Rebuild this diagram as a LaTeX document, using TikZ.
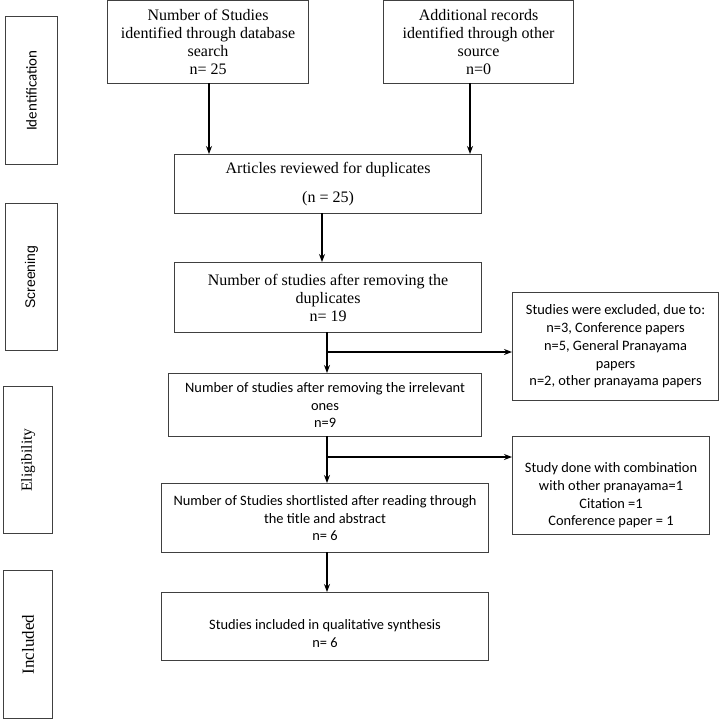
\documentclass[tikz,border=0pt]{standalone}
\usepackage{fontspec}
\setmainfont{Liberation Serif}
\setsansfont{Liberation Sans}
\newfontfamily\calfont{Carlito}
\usetikzlibrary{arrows.meta}
\tikzset{
  box/.style={draw=black!75, line width=1.1pt, inner sep=0pt, anchor=north west, align=center},
  serifbox/.style={box, font=\fontsize{16}{18}\selectfont},
  sansbox/.style={box, font=\calfont\fontsize{14.4}{17.7}\selectfont},
  sanstext/.style={inner sep=0pt, align=center, font=\calfont\fontsize{14.4}{17.7}\selectfont},
  side/.style={box},
  arr/.style={line width=1.2pt, -{Stealth[length=8pt,width=6pt]}},
  ln/.style={line width=1.2pt}
}
\begin{document}
\begin{tikzpicture}[x=1pt,y=-1pt]
\useasboundingbox (0,0) rectangle (719,723);
% side labels
\node[side, minimum width=52pt, minimum height=148pt] (sid) at (5,16) {};
\node[rotate=90, font=\calfont\fontsize{15}{16}\selectfont] (tid) at (sid.center) {Identification};
\node[side, minimum width=52pt, minimum height=147pt] (ssc) at (5,203) {};
\node[rotate=90, font=\sffamily\fontsize{14}{16}\selectfont] (tsc) at (ssc.center) {Screening};
\node[side, minimum width=49pt, minimum height=147pt] (sel) at (3,386) {};
\node[rotate=90, font=\fontsize{15.5}{16}\selectfont] (tel) at (sel.center) {Eligibility};
\node[side, minimum width=49pt, minimum height=148pt] (sin) at (3,570) {};
\node[rotate=90, font=\fontsize{17}{18}\selectfont] (tin) at (sin.center) {Included};
% main boxes
\node[serifbox, minimum width=201pt, minimum height=83pt] (b1) at (107,0)
  {Number of Studies\\identified through database\\search\\n= 25};
\node[serifbox, minimum width=190pt, minimum height=83pt] (b2) at (383,0)
  {Additional records\\identified through other\\source\\n=0};
\node[serifbox, minimum width=307pt, minimum height=59pt] (b3) at (174,154)
  {Articles reviewed for duplicates\\[11pt](n = 25)};
\node[serifbox, minimum width=307pt, minimum height=70pt] (b4) at (174,262)
  {Number of studies after removing the\\duplicates\\n= 19};
\node[sansbox, minimum width=206pt, minimum height=108pt] (b5) at (512,292)
  {Studies were excluded, due to:\\n=3, Conference papers\\n=5, General Pranayama\\papers\\n=2, other pranayama papers};
\node[sansbox, minimum width=313pt, minimum height=63pt] (b6) at (168,373)
  {Number of studies after removing the irrelevant\\ones\\n=9};
\node[sansbox, minimum width=197pt, minimum height=98pt] (b7) at (512,436) {};
\node[sanstext, yshift=-10pt] (t7) at (b7.center)
  {Study done with combination\\with other pranayama=1\\Citation =1\\Conference paper = 1};
\node[sansbox, minimum width=327pt, minimum height=69pt] (b8) at (161,483)
  {Number of Studies shortlisted after reading through\\the title and abstract\\n= 6};
\node[sansbox, minimum width=327pt, minimum height=68pt] (b9) at (161,592) {};
\node[sanstext, yshift=-7pt] (t9) at (b9.center)
  {Studies included in qualitative synthesis\\n= 6};
% connectors
\coordinate (a1) at (209,83);
\coordinate (a2) at (470,83);
\draw[arr] (a1) -- (a1 |- b3.north);
\draw[arr] (a2) -- (a2 |- b3.north);
\coordinate (a3) at (322,213);
\draw[arr] (a3) -- (a3 |- b4.north);
\coordinate (a4) at (327,332);
\draw[arr] (a4) -- (a4 |- b6.north);
\coordinate (j1) at (327,352);
\draw[arr] (j1) -- (j1 -| b5.west);
\coordinate (a5) at (327,436);
\draw[arr] (a5) -- (a5 |- b8.north);
\coordinate (j2) at (327,457);
\draw[arr] (j2) -- (j2 -| b7.west);
\coordinate (a6) at (327,552);
\draw[arr] (a6) -- (a6 |- b9.north);
\end{tikzpicture}
\end{document}
